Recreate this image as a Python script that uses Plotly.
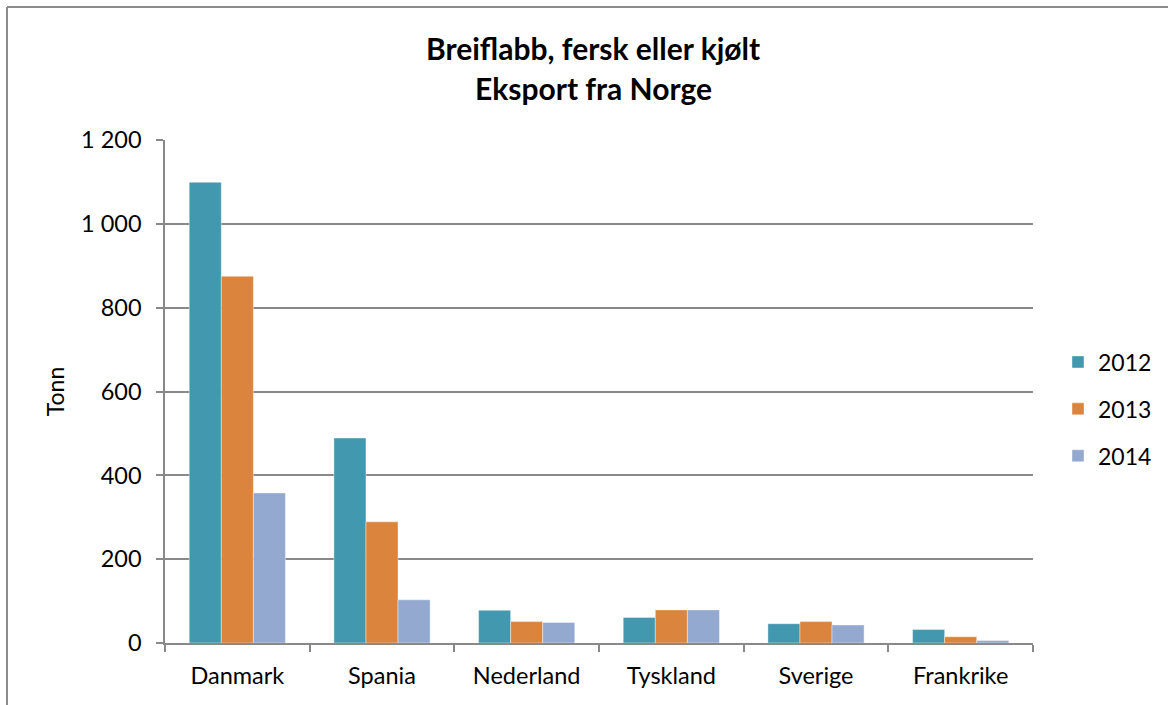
import plotly.graph_objects as go

categories = ["Danmark", "Spania", "Nederland", "Tyskland", "Sverige", "Frankrike"]
years = ["2012", "2013", "2014"]
v2012 = [1099, 489, 78, 61, 46, 32]
v2013 = [875, 289, 51, 79, 51, 15]
v2014 = [358, 103, 49, 79, 43, 6]
colors = ["#4298AF", "#DB843D", "#93A9CF"]
y_ticks = [0, 200, 400, 600, 800, 1000, 1200]
y_tick_labels = ["0", "200", "400", "600", "800", "1 000", "1 200"]

FONT = "Lato"
fig = go.Figure()
for name, vals, col in zip(years, [v2012, v2013, v2014], colors):
    fig.add_trace(go.Bar(
        x=categories, y=vals, name=name, legendgroup=name,
        marker=dict(color=col, line=dict(color="rgba(255,255,255,0.5)", width=0.8)),
    ))

W, H = 1168, 705
ml, mr, mt, mb = 165, 135, 140, 62
pw, ph = W - ml - mr, H - mt - mb

def px(x):
    return (x - ml) / pw

def py(y):
    return (H - mb - y) / ph

fig.update_layout(
    width=W, height=H,
    margin=dict(l=ml, r=mr, t=mt, b=mb, pad=0, autoexpand=False),
    paper_bgcolor="white", plot_bgcolor="white",
    barmode="group", bargap=0.335, bargroupgap=0,
    font=dict(family=FONT, size=23, color="#000000"),
    showlegend=True,
    legend=dict(x=px(1058), y=py(409), xanchor="left", yanchor="middle",
                font=dict(size=23, family=FONT), tracegroupgap=14,
                traceorder="grouped", bgcolor="rgba(0,0,0,0)"),
    xaxis=dict(
        showline=True, linecolor="#898989", linewidth=1.5,
        ticks="outside", tickson="boundaries", ticklen=7, tickcolor="#898989", tickwidth=1.5,
        showgrid=False, tickfont=dict(size=23.5, family=FONT), fixedrange=True,
        ticklabelstandoff=11,
    ),
    yaxis=dict(
        range=[0, 1200], tickvals=y_ticks, ticktext=y_tick_labels,
        showgrid=True, gridcolor="#898989", gridwidth=1.5,
        showline=True, linecolor="#898989", linewidth=1.5,
        ticks="outside", ticklen=7, tickcolor="#898989", tickwidth=1.5,
        tickfont=dict(size=23.5, family=FONT), zeroline=False, fixedrange=True,
        ticklabelstandoff=10,
        title=dict(text="Tonn", font=dict(size=23, family=FONT), standoff=10),
    ),
    annotations=[
        dict(text="<b>Breiflabb, fersk eller kjølt</b>", xref="paper", yref="paper",
             x=px(593), y=py(48), xanchor="center", yanchor="middle", showarrow=False,
             font=dict(size=30, family=FONT)),
        dict(text="<b>Eksport fra Norge</b>", xref="paper", yref="paper",
             x=px(593), y=py(88), xanchor="center", yanchor="middle", showarrow=False,
             font=dict(size=30, family=FONT)),
    ],
    shapes=[
        dict(type="line", xref="paper", yref="paper", x0=px(7), x1=px(1175), y0=py(7), y1=py(7),
             line=dict(color="#8C8C8C", width=2)),
        dict(type="line", xref="paper", yref="paper", x0=px(7), x1=px(7), y0=py(7), y1=py(712),
             line=dict(color="#8C8C8C", width=2)),
    ],
)

fig.write_html("out.html", config={"displayModeBar": False},
               post_script="document.body.style.margin='0';document.body.style.overflow='hidden';")
